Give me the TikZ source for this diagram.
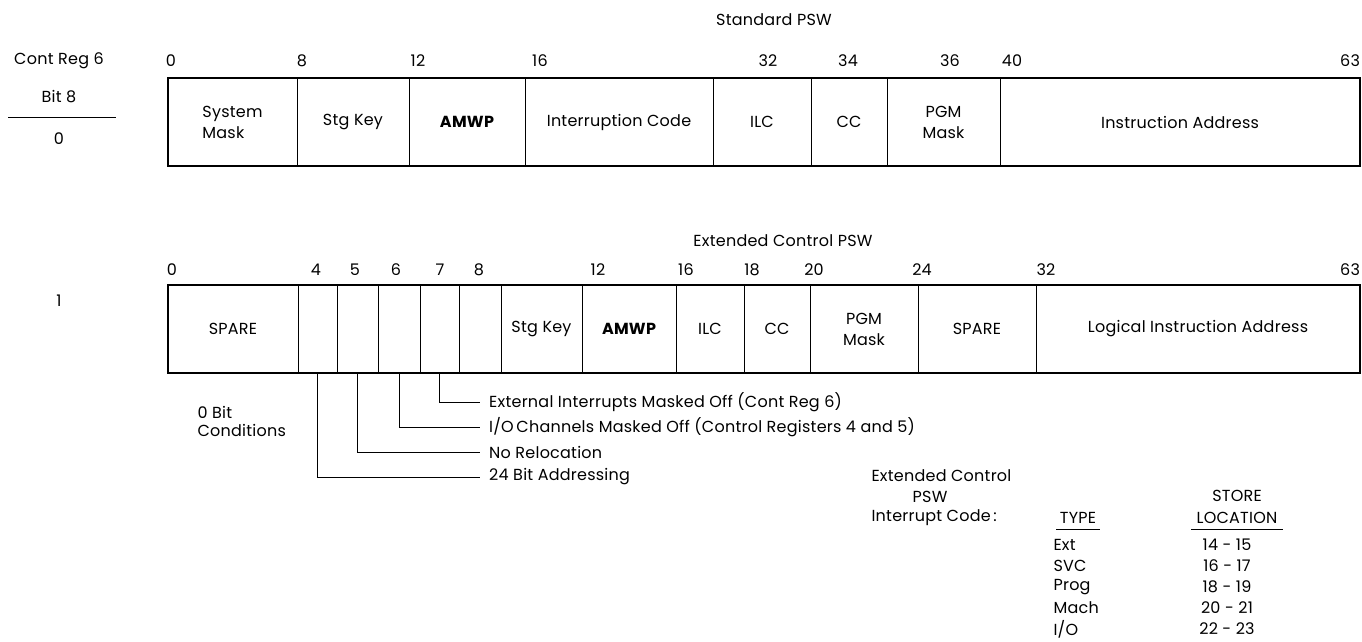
\documentclass[tikz,border=0pt]{standalone}
\usepackage{fontspec}
\setmainfont{Poppins}[LetterSpace=1.5]
\usetikzlibrary{positioning}

\begin{document}
\begin{tikzpicture}[x=1pt, y=-1pt, font=\fontsize{16}{21}\selectfont]
    \tikzstyle{field} = [rectangle, draw, line width=0.9pt, minimum height=88pt, inner sep=0pt, outer sep=0pt, align=center]
    \tikzstyle{bitno} = [inner sep=0pt]
    \tikzstyle{note} = [anchor=west, inner xsep=9pt, inner ysep=0pt]
    \tikzstyle{frame} = [draw, line width=1.8pt]
    \tikzstyle{leader} = [draw, line width=0.9pt]

    \useasboundingbox (0,0) rectangle (1362,642);

    % mode selector
    \node (creg) at (59,61) {Cont Reg 6};
    \node (bit8) at (59,97) {Bit 8};
    \draw [line width=0.9pt] (8,117) -- (116,117);
    \node (mode0) at (59,139) {0};
    \node (mode1) at (59,301) {1};

    % standard PSW
    \node (stdtitle) at (774,20) {Standard PSW};
    \foreach \x/\b in {171/0, 302/8, 418/12, 540/16, 768/32, 848/34, 950/36, 1012/40, 1350/63}
        \node [bitno] (s\b) at (\x,61) {\b};
    \node [field, minimum width=129pt, anchor=north west, align=left] (sysmask) at (168,78) {System\\Mask};
    \node [field, minimum width=112pt, right=0pt of sysmask] (stgkey) {Stg Key};
    \node [field, minimum width=116pt, right=0pt of stgkey] (amwp) {\bfseries AMWP};
    \node [field, minimum width=188pt, right=0pt of amwp] (intcode) {Interruption Code};
    \node [field, minimum width=98pt, right=0pt of intcode] (ilc) {ILC};
    \node [field, minimum width=76pt, right=0pt of ilc] (cc) {CC};
    \node [field, minimum width=113pt, right=0pt of cc] (pgm) {PGM\\Mask};
    \node [field, minimum width=360pt, right=0pt of pgm] (instaddr) {Instruction Address};
    \draw [frame] (sysmask.north west) rectangle (instaddr.south east);

    % extended control PSW
    \node (exttitle) at (783,241) {Extended Control PSW};
    \foreach \x/\b in {172/0, 316/4, 355/5, 396/6, 440/7, 479/8, 598/12, 686/16, 752/18, 814/20, 922/24, 1046/32, 1350/63}
        \node [bitno] (e\b) at (\x,270) {\b};
    \node [field, minimum width=130pt, anchor=north west] (spare1) at (168,285) {SPARE};
    \node [field, minimum width=39pt, right=0pt of spare1] (b4) {};
    \node [field, minimum width=41pt, right=0pt of b4] (b5) {};
    \node [field, minimum width=42pt, right=0pt of b5] (b6) {};
    \node [field, minimum width=39pt, right=0pt of b6] (b7) {};
    \node [field, minimum width=42pt, right=0pt of b7] (b8) {};
    \node [field, minimum width=81pt, right=0pt of b8] (xstgkey) {Stg Key};
    \node [field, minimum width=94pt, right=0pt of xstgkey] (xamwp) {\bfseries AMWP};
    \node [field, minimum width=68pt, right=0pt of xamwp] (xilc) {ILC};
    \node [field, minimum width=66pt, right=0pt of xilc] (xcc) {CC};
    \node [field, minimum width=108pt, right=0pt of xcc] (xpgm) {PGM\\Mask};
    \node [field, minimum width=118pt, right=0pt of xpgm] (spare2) {SPARE};
    \node [field, minimum width=324pt, right=0pt of spare2] (logaddr) {Logical Instruction Address};
    \draw [frame] (spare1.north west) rectangle (logaddr.south east);

    % 0 bit conditions
    \node [align=left, anchor=west] (zerobit) at (194,421) {0 Bit\\[-3pt]Conditions};
    \node [note] (extint) at (480,402) {External Interrupts Masked Off (Cont Reg 6)};
    \node [note] (iochan) at (480,427) {I/O\,Channels Masked Off (Control Registers 4 and 5)};
    \node [note] (noreloc) at (480,452) {No Relocation};
    \node [note] (addr24) at (480,477) {24 Bit Addressing};
    \draw [leader] (b7.south) |- (extint.west);
    \draw [leader] (b6.south) |- (iochan.west);
    \draw [leader] (b5.south) |- (noreloc.west);
    \draw [leader] (b4.south) |- (addr24.west);

    % interrupt code table
    \node [anchor=west] (ecpsw) at (868,476) {Extended Control};
    \node (ecpsw2) at (930,497) {PSW};
    \node [anchor=west] (icode) at (868,518) {Interrupt Code\,:};
    \node (typehd) at (1078,518) {TYPE};
    \node (storehd) at (1237,496) {STORE};
    \node (lochd) at (1237,518) {LOCATION};
    \draw [line width=0.9pt] (typehd.south west) ++(0,2) coordinate (tl) -- (tl -| typehd.south east);
    \draw [line width=0.9pt] (lochd.south west) ++(-2,2) coordinate (ll) -- ([xshift=2pt] ll -| lochd.south east);
    \foreach \t/\l [count=\i] in {Ext/14 - 15, SVC/16 - 17, Prog/18 - 19, Mach/20 - 21, {I/O}/22 - 23} {
        \node [anchor=west] (type\i) at (1050,524+21*\i) {\t};
        \node (loc\i) at (1227,524+21*\i) {\l};
    }
\end{tikzpicture}
\end{document}
